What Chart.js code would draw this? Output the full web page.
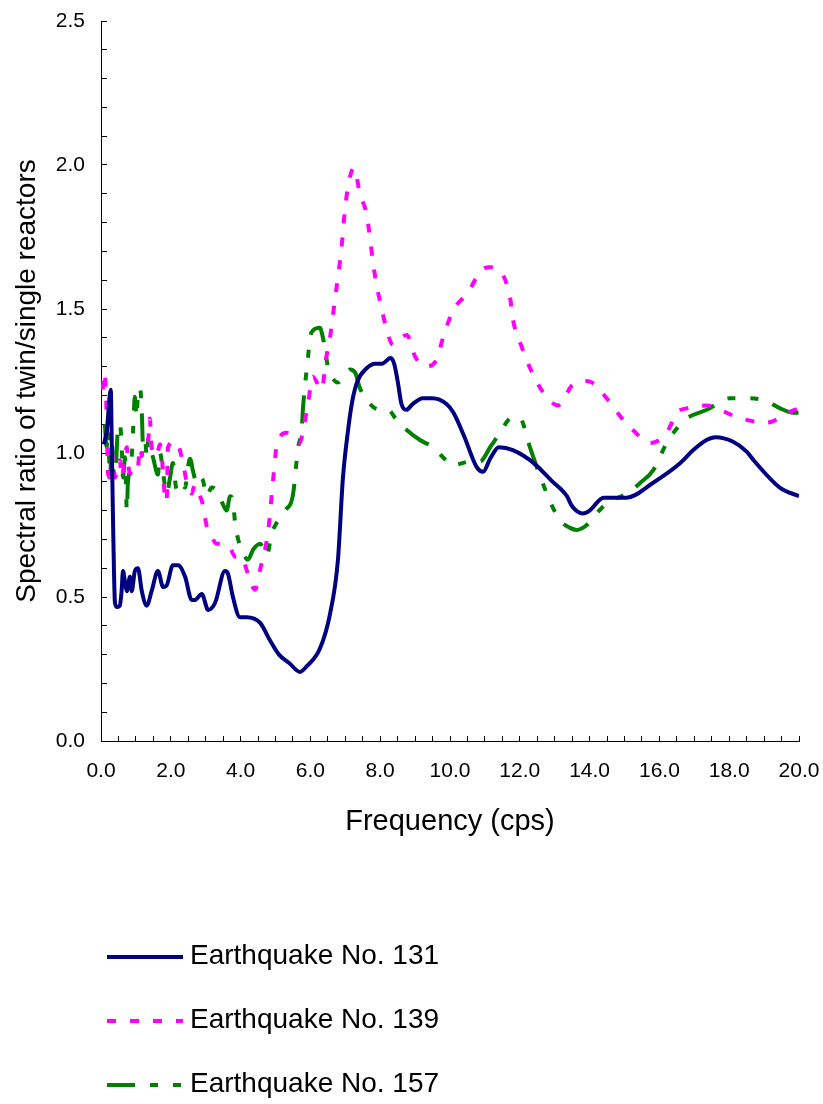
<!DOCTYPE html>
<html>
<head>
<meta charset="utf-8">
<title>Spectral ratio of twin/single reactors</title>
<script src="https://cdn.jsdelivr.net/npm/chart.js@4"></script>
<style>
  body { margin: 0; background: #fff; }
  #wrap { position: relative; width: 823px; height: 1104px; }
  #legend { position: absolute; left: 107px; top: 0; font-family: 'Liberation Sans', Arial, sans-serif; font-size: 28px; color: #000; }
  .row { position: absolute; left: 0; height: 40px; display: flex; align-items: center; white-space: nowrap; }
  .row span { margin-left: 7px; position: relative; top: -2px; }
</style>
</head>
<body>
<div id="wrap">
  <canvas id="myChart" width="823" height="1104"></canvas>
  <div id="legend"></div>
</div>
<script>
// Earthquake No. 131
const freq131 = [0.08,0.17,0.25,0.28,0.31,0.34,0.37,0.40,0.46,0.54,0.59,0.63,0.69,0.74,0.83,0.88,0.97,1.06,1.17,1.31,
  1.45,1.63,1.78,1.88,2.06,2.21,2.41,2.60,2.69,2.89,3.07,3.27,3.55,3.64,3.78,3.98,4.17,4.56,4.84,5.10,
  5.40,5.70,5.90,6.27,6.56,6.79,6.93,7.08,7.20,7.35,7.62,7.85,8.05,8.30,8.40,8.50,8.61,8.75,8.93,9.22,
  9.50,9.90,10.10,10.40,10.77,10.95,11.15,11.40,11.80,12.40,12.90,13.35,13.50,13.80,14.00,14.40,15.06,15.80,16.60,16.97,
  17.35,17.60,18.10,18.50,18.70,19.45,20.00];
const ratio131 = [1.03,1.08,1.20,1.22,1.02,0.80,0.60,0.48,0.465,0.47,0.52,0.59,0.55,0.52,0.57,0.52,0.59,0.60,0.52,0.47,
  0.52,0.59,0.535,0.54,0.61,0.61,0.57,0.49,0.49,0.51,0.455,0.48,0.59,0.58,0.50,0.43,0.43,0.41,0.35,0.30,
  0.27,0.24,0.26,0.32,0.44,0.63,0.91,1.08,1.18,1.25,1.295,1.31,1.31,1.33,1.31,1.25,1.17,1.15,1.17,1.19,
  1.19,1.17,1.14,1.06,0.95,0.935,0.98,1.02,1.01,0.965,0.905,0.85,0.815,0.79,0.80,0.845,0.845,0.895,0.965,1.01,
  1.045,1.055,1.04,1.005,0.975,0.88,0.85];

// Earthquake No. 139
const freq139 = [0.05,0.10,0.16,0.20,0.26,0.34,0.40,0.54,0.59,0.74,0.77,0.83,1.02,1.06,1.12,1.17,1.20,1.35,1.40,1.45,
  1.59,1.69,1.74,1.83,1.88,1.92,2.12,2.21,2.35,2.49,2.60,2.69,2.84,2.92,3.03,3.17,3.31,3.50,3.70,3.84,
  4.03,4.17,4.27,4.41,4.56,4.79,4.93,5.03,5.32,5.70,5.79,5.93,6.07,6.32,6.46,6.56,6.70,6.80,6.89,6.97,
  7.07,7.25,7.42,7.61,7.71,7.79,7.90,7.99,8.14,8.37,8.47,8.76,9.00,9.29,9.60,9.80,10.09,10.50,10.95,11.15,
  11.48,11.72,11.81,12.05,12.35,12.67,13.10,13.50,13.90,14.06,14.49,14.96,15.24,15.73,15.92,16.21,16.50,16.78,17.36,17.74,
  18.20,18.50,18.97,19.25,19.68,20.00];
const ratio139 = [1.22,1.28,1.14,0.93,0.915,0.99,0.915,0.975,0.915,1.02,0.97,0.93,0.925,0.95,1.02,0.99,1.045,1.045,1.12,1.02,
  0.99,1.03,0.99,0.85,0.83,1.02,1.04,1.03,0.965,0.88,0.86,0.89,0.85,0.82,0.745,0.71,0.685,0.685,0.67,0.64,
  0.64,0.595,0.56,0.525,0.595,0.73,0.905,1.02,1.07,1.035,1.08,1.17,1.265,1.22,1.335,1.40,1.53,1.62,1.71,1.82,
  1.92,1.99,1.90,1.83,1.745,1.665,1.58,1.53,1.45,1.375,1.385,1.41,1.335,1.30,1.32,1.40,1.495,1.555,1.64,1.645,
  1.625,1.54,1.46,1.37,1.28,1.21,1.165,1.235,1.25,1.245,1.19,1.115,1.08,1.035,1.04,1.07,1.14,1.155,1.165,1.15,
  1.125,1.115,1.105,1.11,1.14,1.155];

// Earthquake No. 157
const freq157 = [0.11,0.16,0.20,0.26,0.31,0.34,0.40,0.49,0.54,0.59,0.63,0.69,0.74,0.77,0.83,0.88,0.92,0.97,1.02,1.06,
  1.12,1.17,1.20,1.26,1.31,1.35,1.40,1.49,1.63,1.69,1.78,1.88,1.98,2.06,2.17,2.31,2.41,2.49,2.55,2.64,
  2.74,2.84,2.92,3.03,3.17,3.32,3.50,3.60,3.70,3.78,3.84,3.93,4.03,4.21,4.36,4.56,4.75,4.89,5.07,5.27,
  5.50,5.65,5.75,5.79,5.85,5.93,5.99,6.07,6.27,6.36,6.42,6.50,6.61,6.79,6.93,7.13,7.28,7.42,7.71,7.99,
  8.22,8.47,8.76,9.14,9.51,9.80,10.09,10.23,10.57,10.86,11.15,11.43,11.72,11.91,12.05,12.29,12.52,12.77,12.91,13.15,
  13.44,13.63,13.92,14.20,14.49,14.87,15.10,15.44,15.82,16.21,16.53,16.78,17.36,18.02,18.60,19.07,19.46,19.83,20.00];
const ratio157 = [1.10,1.02,1.08,0.915,1.045,0.965,0.915,1.09,1.10,1.035,0.915,0.985,0.80,0.895,0.94,0.985,1.08,1.195,1.125,1.21,
  1.225,1.14,1.035,1.055,0.985,1.045,1.02,0.985,0.925,1.00,0.93,0.86,0.915,0.965,0.87,0.895,0.88,0.95,0.98,0.935,
  0.895,0.915,0.905,0.85,0.88,0.87,0.82,0.80,0.85,0.835,0.76,0.70,0.665,0.63,0.665,0.685,0.645,0.72,0.765,0.80,
  0.855,1.02,1.08,1.16,1.24,1.33,1.40,1.425,1.435,1.40,1.36,1.30,1.265,1.245,1.26,1.29,1.28,1.225,1.17,1.15,
  1.15,1.115,1.08,1.045,1.02,0.985,0.955,0.96,0.97,0.97,1.02,1.07,1.12,1.125,1.115,1.02,0.94,0.86,0.82,0.767,
  0.74,0.733,0.75,0.79,0.825,0.848,0.86,0.895,0.94,1.035,1.09,1.12,1.15,1.19,1.19,1.18,1.155,1.14,1.14];

const seriesNames = ['Earthquake No. 131', 'Earthquake No. 139', 'Earthquake No. 157'];

function toPoints(xs, ys) {
    return xs.map((x, i) => ({ x: x, y: ys[i] }));
}

Chart.defaults.font.family = "'Liberation Sans', Arial, sans-serif";
Chart.defaults.color = '#000';

const lineStyles = [
    { color: '#000080', width: 4, dash: [] },
    { color: '#FF00FF', width: 4, dash: [9, 14] },
    { color: '#008000', width: 4, dash: [28, 15, 8, 15, 8, 15] }
];

const seriesData = [
    toPoints(freq131, ratio131),
    toPoints(freq139, ratio139),
    toPoints(freq157, ratio157)
];

const ctx = document.getElementById('myChart').getContext('2d');
const chart = new Chart(ctx, {
    type: 'line',
    data: {
        datasets: seriesData.map((pts, i) => ({
            label: seriesNames[i],
            data: pts,
            borderColor: lineStyles[i].color,
            borderWidth: lineStyles[i].width,
            borderDash: lineStyles[i].dash,
            pointRadius: 0,
            fill: false,
            cubicInterpolationMode: 'monotone'
        }))
    },
    options: {
        responsive: false,
        animation: false,
        layout: { padding: { top: 21, right: 24, bottom: 253, left: 0 } },
        plugins: {
            legend: { display: false },
            tooltip: { enabled: false }
        },
        scales: {
            x: {
                type: 'linear',
                min: 0,
                max: 20,
                // fixed height, and drop the label overhang so the layout padding decides the plot edges
                afterFit: (s) => { s.height = 110; s.paddingLeft = 0; s.paddingRight = 0; },
                border: { display: true, color: '#000', width: 1 },
                grid: { drawOnChartArea: false, drawTicks: true, tickLength: -5, color: '#000' },
                ticks: {
                    stepSize: 0.5,
                    autoSkip: false,
                    maxRotation: 0,
                    maxTicksLimit: 100,
                    padding: 23,
                    font: { size: 21 },
                    callback: (v) => (Math.round(v * 10) % 20 === 0 ? v.toFixed(1) : '')
                },
                title: {
                    display: true,
                    text: 'Frequency (cps)',
                    font: { size: 29 },
                    padding: { top: 0, bottom: 12 }
                }
            },
            y: {
                min: 0,
                max: 2.5,
                afterFit: (s) => { s.width = 101; s.paddingTop = 0; s.paddingBottom = 0; },
                border: { display: true, color: '#000', width: 1 },
                grid: { drawOnChartArea: false, drawTicks: true, tickLength: -6, color: '#000' },
                ticks: {
                    stepSize: 0.1,
                    autoSkip: false,
                    maxTicksLimit: 100,
                    padding: 22,
                    font: { size: 21 },
                    callback: (v) => (Math.round(v * 10) % 5 === 0 ? v.toFixed(1) : '')
                },
                title: {
                    display: true,
                    text: 'Spectral ratio of twin/single reactors',
                    font: { size: 28 },
                    padding: { top: 10, bottom: 0 }
                }
            }
        }
    }
});

// Legend stacked under the chart, one entry per row
const rowCenters = [957, 1021, 1085];
const legendBox = document.getElementById('legend');
chart.data.datasets.forEach((ds, i) => {
    const row = document.createElement('div');
    row.className = 'row';
    row.style.top = (rowCenters[i] - 20) + 'px';
    const dash = ds.borderDash.length ? ` stroke-dasharray="${ds.borderDash.join(' ')}"` : '';
    row.innerHTML = `<svg width="76" height="8"><line x1="0" y1="4" x2="76" y2="4" stroke="${ds.borderColor}" stroke-width="${ds.borderWidth}"${dash}/></svg><span>${ds.label}</span>`;
    legendBox.appendChild(row);
});
</script>
</body>
</html>
